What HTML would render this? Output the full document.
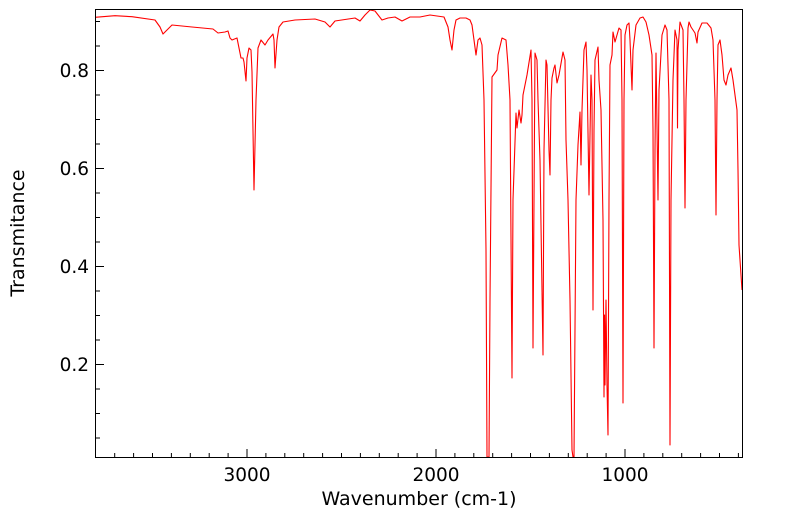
<!DOCTYPE html>
<html><head><meta charset="utf-8"><style>
html,body{margin:0;padding:0;background:#fff;}
svg{display:block;font-family:"DejaVu Sans","Liberation Sans",sans-serif;}
</style></head><body>
<svg width="799" height="516" viewBox="0 0 799 516" xmlns="http://www.w3.org/2000/svg">
<rect x="0" y="0" width="799" height="516" fill="#fff"/>
<g stroke="#000" stroke-width="1">
<line x1="114.7" y1="457" x2="114.7" y2="453"/><line x1="133.6" y1="457" x2="133.6" y2="453"/><line x1="152.5" y1="457" x2="152.5" y2="453"/><line x1="171.4" y1="457" x2="171.4" y2="453"/><line x1="190.3" y1="457" x2="190.3" y2="453"/><line x1="209.2" y1="457" x2="209.2" y2="453"/><line x1="228.1" y1="457" x2="228.1" y2="453"/><line x1="247" y1="457" x2="247" y2="449"/><line x1="265.9" y1="457" x2="265.9" y2="453"/><line x1="284.8" y1="457" x2="284.8" y2="453"/><line x1="303.7" y1="457" x2="303.7" y2="453"/><line x1="322.6" y1="457" x2="322.6" y2="453"/><line x1="341.5" y1="457" x2="341.5" y2="453"/><line x1="360.4" y1="457" x2="360.4" y2="453"/><line x1="379.3" y1="457" x2="379.3" y2="453"/><line x1="398.2" y1="457" x2="398.2" y2="453"/><line x1="417.1" y1="457" x2="417.1" y2="453"/><line x1="436" y1="457" x2="436" y2="449"/><line x1="454.9" y1="457" x2="454.9" y2="453"/><line x1="473.8" y1="457" x2="473.8" y2="453"/><line x1="492.7" y1="457" x2="492.7" y2="453"/><line x1="511.6" y1="457" x2="511.6" y2="453"/><line x1="530.5" y1="457" x2="530.5" y2="453"/><line x1="549.4" y1="457" x2="549.4" y2="453"/><line x1="568.3" y1="457" x2="568.3" y2="453"/><line x1="587.2" y1="457" x2="587.2" y2="453"/><line x1="606.1" y1="457" x2="606.1" y2="453"/><line x1="625" y1="457" x2="625" y2="449"/><line x1="643.9" y1="457" x2="643.9" y2="453"/><line x1="662.8" y1="457" x2="662.8" y2="453"/><line x1="681.7" y1="457" x2="681.7" y2="453"/><line x1="700.6" y1="457" x2="700.6" y2="453"/><line x1="719.5" y1="457" x2="719.5" y2="453"/><line x1="738.4" y1="457" x2="738.4" y2="453"/>
<line x1="95" y1="21.5" x2="100" y2="21.5"/><line x1="95" y1="46" x2="100" y2="46"/><line x1="95" y1="70.5" x2="104" y2="70.5"/><line x1="95" y1="95" x2="100" y2="95"/><line x1="95" y1="119.5" x2="100" y2="119.5"/><line x1="95" y1="144" x2="100" y2="144"/><line x1="95" y1="168.5" x2="104" y2="168.5"/><line x1="95" y1="193" x2="100" y2="193"/><line x1="95" y1="217.5" x2="100" y2="217.5"/><line x1="95" y1="242" x2="100" y2="242"/><line x1="95" y1="266.5" x2="104" y2="266.5"/><line x1="95" y1="291" x2="100" y2="291"/><line x1="95" y1="315.5" x2="100" y2="315.5"/><line x1="95" y1="340" x2="100" y2="340"/><line x1="95" y1="364.5" x2="104" y2="364.5"/><line x1="95" y1="389" x2="100" y2="389"/><line x1="95" y1="413.5" x2="100" y2="413.5"/><line x1="95" y1="438" x2="100" y2="438"/>
</g>
<polyline fill="none" stroke="#ff0000" stroke-width="1.1" stroke-linejoin="round" points="
95,17.3 115,15.7 132,16.7 155,20 160,27 163,34 167,30 172,25 192,27 213,29 218,33 225,32 228,31 230,38 232,40 237,38 239,48 241,58 243,58 244,62 246,81 247,58 249,48 251,50 252,72 254,190 256,100 258,48 261,40 265,45 268,40 273,34 274,40 275,68 277,40 279,27 283,22 295,20 315,19 325,22 330,27 335,21 355,18 360,21 365,15 370,10 375,11 382,20 388,18 395,17 402,21 410,17 420,17 430,15 444,17 446,22 448,27 450,40 452,50 454,30 456,20 460,18 466,18 470,20 472,25 474,40 476,55 478,40 480,38 482,45 484,100 486,250 487,457 489,457 490,300 492,77 497,70 498,55 502,38 506,40 508,65 510,100 512,378 513,200 516,113 517,128 519,110 521,123 522,115 523,95 527,75 531,50 532,100 533,348 534,200 535,53 537,60 538,100 540,160 543,355 544,150 546,60 547,65 549,150 550,175 551,100 552,78 554,68 555,65 557,83 559,75 563,52 565,60 566,140 568,200 570,300 572,450 573,457 574,457 576,200 578,145 580,112 581,165 582,110 584,50 586,42 587,70 589,195 591,75 592,100 593,310 594,130 595,60 598,47 599,80 601,110 603,220 604,397 604.5,315 605,385 606,300 607,385 608,435 609,200 610,65 612,55 613,32 615,42 617,35 619,28 621,30 622,100 623,403 624,100 625,35 627,25 629,23 630,40 632,90 633,50 636,25 640,18 643,17 646,22 649,35 652,55 653,130 654,348 655,150 656,53 658,200 659,90 662,35 665,25 667,30 669,100 670,445 671,200 673,80 675,30 677,40 677.5,128 678,50 680,22 683,30 684,100 685,208 686,100 688,28 689,22 691,27 695,33 697,43 698,32 702,23 707,23 711,28 713,40 715,100 716,215 717,100 718,45 720,40 722,55 724,80 726,85 728,75 731,68 733,80 737,110 738,170 739,245 742,290"/>
<rect x="95.5" y="9.5" width="647" height="448" fill="none" stroke="#000" stroke-width="1"/>
<g font-size="18.5" fill="#000">
<text x="89" y="77" text-anchor="end">0.8</text>
<text x="89" y="175" text-anchor="end">0.6</text>
<text x="89" y="273" text-anchor="end">0.4</text>
<text x="89" y="371" text-anchor="end">0.2</text>
<text x="247" y="481" text-anchor="middle">3000</text>
<text x="436" y="481" text-anchor="middle">2000</text>
<text x="625" y="481" text-anchor="middle">1000</text>
<text x="419" y="505" text-anchor="middle" font-size="19">Wavenumber (cm-1)</text>
<text transform="translate(24,233) rotate(-90)" text-anchor="middle" font-size="19">Transmitance</text>
</g>
</svg>
</body></html>
